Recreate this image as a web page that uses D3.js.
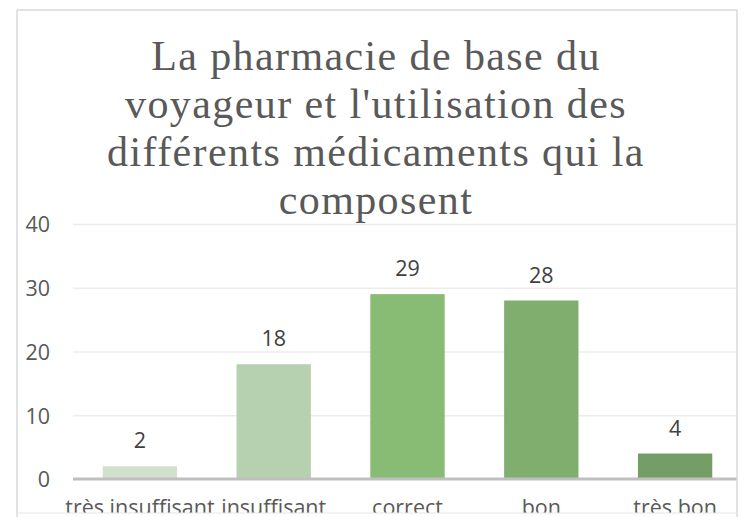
<!DOCTYPE html>
<html>
<head>
<meta charset="utf-8">
<script src="https://cdn.jsdelivr.net/npm/d3@7"></script>
<style>
  html, body { margin: 0; padding: 0; background: #fff; }
  svg { display: block; }
</style>
</head>
<body>
<svg id="chart" width="744" height="517"></svg>
<script>
const categories = ["très insuffisant", "insuffisant", "correct", "bon", "très bon"];
const values = [2, 18, 29, 28, 4];
const barColors = ["#d1dfcc", "#b6d1b0", "#88bb74", "#80ae6f", "#759d66"];
const yTicks = [0, 10, 20, 30, 40];
const titleLines = ["La pharmacie de base du", "voyageur et l'utilisation des", "différents médicaments qui la", "composent"];

const svg = d3.select("#chart");
const W = 744, H = 517;

// chart frame
const frame = { left: 17, top: 10, right: 737, bottom: 513 };

svg.append("defs").append("clipPath").attr("id", "clipArea")
  .append("rect")
  .attr("x", frame.left).attr("y", frame.top)
  .attr("width", frame.right - frame.left).attr("height", frame.bottom - frame.top);

const x = d3.scaleBand()
  .domain(categories)
  .range([73, 742])
  .paddingInner(0.4444)
  .paddingOuter(0.2222);

const y = d3.scaleLinear().domain([0, 40]).range([479, 224]);

const g = svg.append("g").attr("clip-path", "url(#clipArea)");

// gridlines
const yAxis = d3.axisLeft(y).tickValues(yTicks).tickSize(-(frame.right - 73)).tickFormat(d3.format("d")).tickPadding(23);
const ya = g.append("g").attr("transform", "translate(73,0)").call(yAxis);
ya.select(".domain").remove();
ya.selectAll(".tick line").attr("stroke", "#ececec").attr("stroke-width", 1.5);
ya.selectAll(".tick text")
  .attr("fill", "#595959")
  .style("font-family", "'Open Sans', sans-serif")
  .style("font-size", "21.5px")
  .attr("dy", "0.36em");

// bars
g.selectAll("rect.bar")
  .data(values)
  .join("rect")
  .attr("class", "bar")
  .attr("x", (d, i) => x(categories[i]))
  .attr("width", x.bandwidth())
  .attr("y", d => y(d))
  .attr("height", d => y(0) - y(d))
  .attr("fill", (d, i) => barColors[i]);

// category labels
const xAxis = d3.axisBottom(x).tickSize(0).tickPadding(21);
const xa = g.append("g").attr("transform", `translate(0,${y(0)})`).call(xAxis);
xa.select(".domain").remove();
xa.selectAll(".tick text")
  .attr("fill", "#595959")
  .style("font-family", "'Open Sans', sans-serif")
  .style("font-size", "21.5px")
  .attr("dy", "0.71em");

// baseline axis
g.append("line")
  .attr("x1", 73).attr("x2", frame.right)
  .attr("y1", y(0)).attr("y2", y(0))
  .attr("stroke", "#bfbfbf").attr("stroke-width", 3);

// value labels
g.selectAll("text.val")
  .data(values)
  .join("text")
  .attr("class", "val")
  .attr("x", (d, i) => x(categories[i]) + x.bandwidth() / 2)
  .attr("y", d => y(d) - 18)
  .attr("text-anchor", "middle")
  .attr("fill", "#404040")
  .style("font-family", "'Open Sans', sans-serif")
  .style("font-size", "21.5px")
  .text(d => d);

// title
svg.append("g").selectAll("text.title")
  .data(titleLines)
  .join("text")
  .attr("class", "title")
  .attr("x", 376)
  .attr("y", (d, i) => 70 + i * 48)
  .attr("text-anchor", "middle")
  .attr("fill", "#595959")
  .style("font-family", "'Liberation Serif', 'Times New Roman', serif")
  .style("font-size", "42px")
  .style("letter-spacing", "1.4px")
  .text(d => d);

// frame
svg.append("line").attr("x1", frame.left).attr("x2", frame.right).attr("y1", frame.top).attr("y2", frame.top)
  .attr("stroke", "#d9d9d9").attr("stroke-width", 1.5);
svg.append("line").attr("x1", frame.left).attr("x2", frame.left).attr("y1", frame.top).attr("y2", H)
  .attr("stroke", "#d9d9d9").attr("stroke-width", 1.5);
svg.append("line").attr("x1", frame.right).attr("x2", frame.right).attr("y1", frame.top).attr("y2", H)
  .attr("stroke", "#d9d9d9").attr("stroke-width", 1.5);
svg.append("line").attr("x1", frame.left).attr("x2", frame.right).attr("y1", frame.bottom).attr("y2", frame.bottom)
  .attr("stroke", "#e6e6e6").attr("stroke-width", 1);
</script>
</body>
</html>
